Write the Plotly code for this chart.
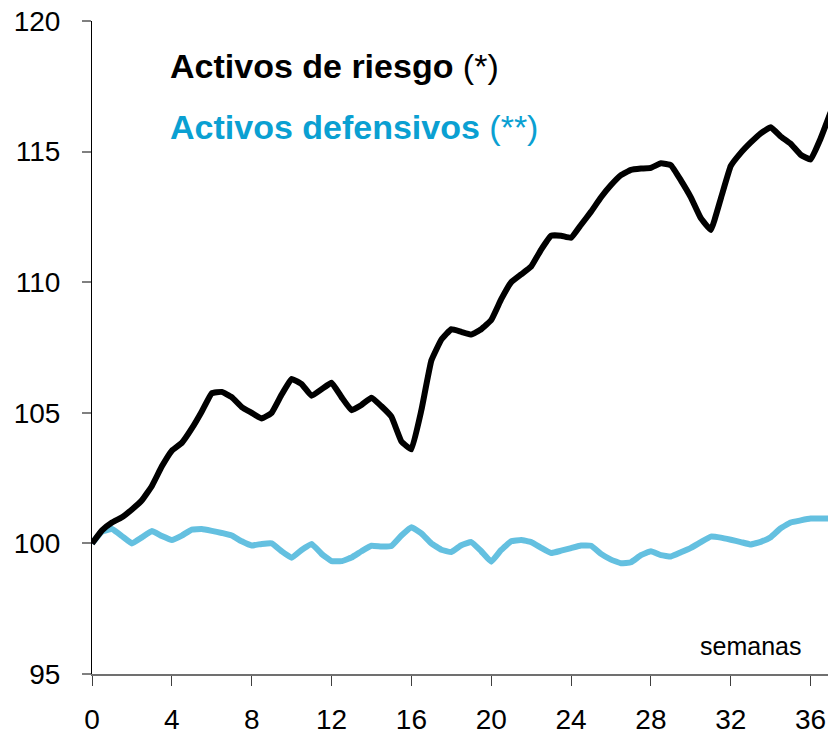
import plotly.graph_objects as go

semanas = [i * 0.5 for i in range(75)]

riesgo = [100.0, 100.5, 100.8, 101.0, 101.3, 101.65, 102.2, 102.95, 103.55, 103.85,
          104.4, 105.05, 105.75, 105.8, 105.6, 105.22, 105.0, 104.78, 105.0, 105.7,
          106.3, 106.1, 105.65, 105.9, 106.15, 105.6, 105.1, 105.3, 105.58, 105.25,
          104.85, 103.9, 103.6, 105.1, 107.0, 107.8, 108.2, 108.1, 108.0, 108.2,
          108.55, 109.35, 110.0, 110.3, 110.6, 111.25, 111.78, 111.78, 111.7, 112.2,
          112.7, 113.25, 113.72, 114.1, 114.3, 114.35, 114.38, 114.55, 114.48, 113.9,
          113.25, 112.45, 112.0, 113.2, 114.45, 114.95, 115.35, 115.7, 115.93, 115.58,
          115.3, 114.88, 114.7, 115.5, 116.5]

defensivos = [100.0, 100.45, 100.55, 100.28, 100.0, 100.23, 100.47, 100.28, 100.13, 100.3,
              100.53, 100.55, 100.48, 100.4, 100.3, 100.08, 99.92, 99.98, 100.0, 99.7,
              99.45, 99.75, 99.98, 99.6, 99.32, 99.32, 99.46, 99.7, 99.91, 99.88,
              99.9, 100.3, 100.62, 100.38, 100.0, 99.76, 99.67, 99.93, 100.05, 99.7,
              99.3, 99.75, 100.08, 100.13, 100.05, 99.83, 99.63, 99.72, 99.82, 99.92,
              99.91, 99.6, 99.38, 99.24, 99.28, 99.55, 99.7, 99.55, 99.5, 99.66,
              99.83, 100.05, 100.26, 100.22, 100.14, 100.05, 99.96, 100.06, 100.24, 100.58,
              100.8, 100.88, 100.95, 100.95, 100.95]

x_ticks = [0, 4, 8, 12, 16, 20, 24, 28, 32, 36]
y_ticks = [95, 100, 105, 110, 115, 120]

FONT = "Arial, Liberation Sans, sans-serif"
BLUE_LINE = "#64C0E0"
BLUE_TEXT = "#0AA0D2"

fig = go.Figure()
fig.add_trace(go.Scatter(x=semanas, y=defensivos, mode="lines",
                         line=dict(color=BLUE_LINE, width=6, shape="spline", smoothing=0.3),
                         showlegend=False))
fig.add_trace(go.Scatter(x=semanas, y=riesgo, mode="lines",
                         line=dict(color="black", width=6, shape="spline", smoothing=0.3),
                         showlegend=False))

fig.update_layout(
    width=828, height=735,
    margin=dict(l=92, r=0, t=21, b=59),
    paper_bgcolor="white", plot_bgcolor="white",
    font=dict(family=FONT, color="black", size=28),
    showlegend=False,
)
fig.update_xaxes(range=[0, 36.87], tickvals=x_ticks, showgrid=False, zeroline=False,
                 showline=True, linecolor="#707070", linewidth=1.5,
                 ticks="outside", ticklen=10, tickcolor="#404040", tickwidth=1,
                 tickfont=dict(size=28, family=FONT), ticklabelstandoff=10)
fig.update_yaxes(range=[95, 120], tickvals=y_ticks, showgrid=False, zeroline=False,
                 showline=True, linecolor="black", linewidth=1,
                 ticks="outside", ticklen=9, tickcolor="#808080", tickwidth=1.5,
                 tickfont=dict(size=28, family=FONT), ticklabelstandoff=16)

fig.add_annotation(x=0.103, y=0.931, xref="paper", yref="paper",
                   text="<b>Activos de riesgo</b> (*)", showarrow=False,
                   xanchor="left", yanchor="middle",
                   font=dict(size=34, color="black", family=FONT))
fig.add_annotation(x=0.103, y=0.838, xref="paper", yref="paper",
                   text="<b>Activos defensivos</b> (**)", showarrow=False,
                   xanchor="left", yanchor="middle",
                   font=dict(size=34, color=BLUE_TEXT, family=FONT))
fig.add_annotation(x=0.966, y=0.043, xref="paper", yref="paper",
                   text="semanas", showarrow=False,
                   xanchor="right", yanchor="middle",
                   font=dict(size=25, color="black", family=FONT))

fig.write_html("out.html", config={"displayModeBar": False},
               post_script="document.body.style.margin='0';document.body.style.overflow='hidden';")
